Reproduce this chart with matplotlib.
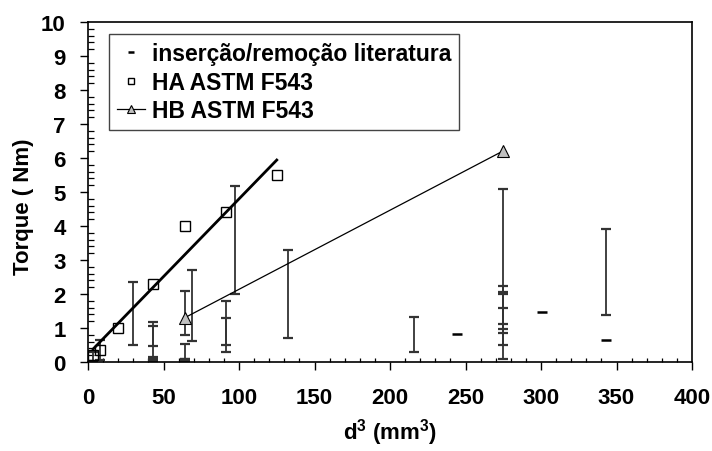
import numpy as np
import matplotlib
matplotlib.use("Agg")
import matplotlib.pyplot as plt
from matplotlib.ticker import MultipleLocator

plt.rcParams['font.family'] = ['Liberation Sans', 'DejaVu Sans']
plt.rcParams['font.weight'] = 'bold'
plt.rcParams['mathtext.fontset'] = 'custom'
plt.rcParams['mathtext.bf'] = 'Liberation Sans:bold'
plt.rcParams['mathtext.rm'] = 'Liberation Sans:bold'
plt.rcParams['mathtext.default'] = 'bf'

# --- Data -------------------------------------------------------------
# HA ASTM F543 (squares)
ha_x = [3.4, 8.0, 19.7, 42.9, 64.0, 91.1, 125.0]
ha_y = [0.22, 0.35, 1.0, 2.3, 4.0, 4.4, 5.5]

# HB ASTM F543 (triangles)
hb_x = [64.0, 274.6]
hb_y = [1.3, 6.2]

# literature insertion/removal ranges (x, low, high)
lit_x = [3.4, 8.0, 29.8, 42.9, 42.9, 42.9, 64.0, 64.0, 64.0, 68.9,
         91.1, 91.1, 97.3, 132.7, 216.0,
         274.6, 274.6, 274.6, 274.6, 274.6, 343.0]
lit_low = [0.03, 0.05, 0.51, 0.47, 0.15, 0.02, 0.8, 0.1, 0.02, 0.62,
           0.5, 0.3, 2.0, 0.72, 0.29,
           0.08, 0.49, 0.85, 1.12, 0.97, 1.37]
lit_high = [0.3, 0.66, 2.35, 1.17, 1.06, 0.08, 2.1, 0.53, 0.08, 2.72,
            1.78, 1.29, 5.18, 3.29, 1.32,
            5.08, 2.25, 2.06, 2.01, 1.59, 3.9]

# literature single values
lit_pt_x = [244.1, 300.8, 343.0]
lit_pt_y = [0.83, 1.47, 0.65]

x_ticks = [0, 50, 100, 150, 200, 250, 300, 350, 400]
y_ticks = [0, 1, 2, 3, 4, 5, 6, 7, 8, 9, 10]

# --- Figure -----------------------------------------------------------
fig = plt.figure(figsize=(7.12, 4.52), dpi=100)
ax = fig.add_axes([88/712, 1-363/452, 604/712, 340/452])

lx = np.array(lit_x)
lo = np.array(lit_low)
hi = np.array(lit_high)
mid = (lo + hi) / 2
ax.errorbar(lx, mid, yerr=[mid - lo, hi - mid], fmt='none',
            ecolor='#333333', elinewidth=1.3, capsize=3.5, capthick=1.6,
            zorder=2)
ax.plot(lit_pt_x, lit_pt_y, linestyle='none', marker='_', color='black',
        markersize=7, markeredgewidth=1.8, label='inserção/remoção literatura',
        zorder=3)

# HA points and linear fit
coef = np.polyfit(ha_x, ha_y, 1)
fx = np.array([min(ha_x), max(ha_x)])
ax.plot(fx, np.polyval(coef, fx), color='black', lw=2.0, zorder=3)
ax.plot(ha_x, ha_y, linestyle='none', marker='s', markersize=7,
        markerfacecolor='none', markeredgecolor='black', markeredgewidth=1.0,
        label='HA ASTM F543', zorder=4)

# HB
ax.plot(hb_x, hb_y, color='black', lw=0.9, marker='^', markersize=8,
        markerfacecolor='#c0c0c0', markeredgecolor='black',
        markeredgewidth=0.8, label='HB ASTM F543', zorder=4)

ax.set_xlim(0, 400)
ax.set_ylim(0, 10)
ax.set_xticks(x_ticks)
ax.set_yticks(y_ticks)
ax.xaxis.set_minor_locator(MultipleLocator(10))
ax.yaxis.set_minor_locator(MultipleLocator(0.2))
ax.tick_params(axis='both', which='major', direction='out', length=6,
               width=1.0, labelsize=16)
ax.tick_params(axis='x', which='major', pad=12)
ax.tick_params(axis='y', which='major', pad=10)
ax.tick_params(axis='x', which='minor', direction='in', length=3, width=0.9)
ax.tick_params(axis='y', which='minor', direction='in', length=4.5, width=0.9)
for lab in ax.get_xticklabels() + ax.get_yticklabels():
    lab.set_fontweight('bold')
for s in ax.spines.values():
    s.set_linewidth(1.2)

ax.set_xlabel(r'd$^3$ (mm$^3$)', fontsize=16, fontweight='bold', labelpad=6)
ax.set_ylabel('Torque ( Nm)', fontsize=16, fontweight='bold')
ax.yaxis.set_label_coords(-0.1076, 0.459)
ax.yaxis.label.set_va('center')

leg = ax.legend(loc='upper left', bbox_to_anchor=(0.035, 0.965),
                borderaxespad=0, fontsize=16.5, markerscale=0.65,
                frameon=True, fancybox=False, framealpha=1,
                edgecolor='#444444', handlelength=1.2, handletextpad=0.3,
                labelspacing=0.25, borderpad=0.35)
leg.get_frame().set_linewidth(1.0)
for t in leg.get_texts():
    t.set_fontweight('bold')

fig.savefig('out.png', dpi=100)
